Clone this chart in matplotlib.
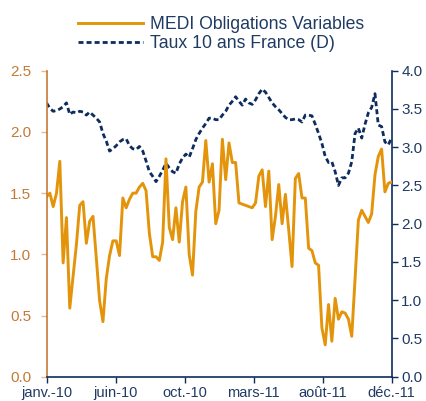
import numpy as np
import matplotlib
matplotlib.use("Agg")
import matplotlib.pyplot as plt

plt.rcParams["font.family"] = ["Liberation Sans", "DejaVu Sans"]

# weekly values, janv. 2010 -> déc. 2011
medi = [1.47, 1.50, 1.39, 1.50, 1.76, 0.93, 1.30, 0.56, 0.82, 1.08,
        1.40, 1.43, 1.09, 1.27, 1.31, 0.97, 0.62, 0.45, 0.80, 0.99,
        1.11, 1.11, 0.99, 1.46, 1.38, 1.45, 1.50, 1.50, 1.55, 1.58,
        1.52, 1.17, 0.98, 0.98, 0.95, 1.10, 1.78, 1.22, 1.12, 1.38,
        1.10, 1.43, 1.55, 1.00, 0.83, 1.35, 1.55, 1.59, 1.93, 1.59,
        1.74, 1.25, 1.36, 1.94, 1.61, 1.91, 1.75, 1.75, 1.42, 1.41,
        1.40, 1.39, 1.38, 1.42, 1.64, 1.69, 1.39, 1.68, 1.12, 1.31,
        1.57, 1.25, 1.49, 1.20, 0.90, 1.62, 1.66, 1.46, 1.46, 1.05,
        1.03, 0.93, 0.91, 0.40, 0.26, 0.59, 0.29, 0.64, 0.47, 0.53,
        0.52, 0.47, 0.33, 0.80, 1.28, 1.36, 1.31, 1.26, 1.33, 1.65,
        1.80, 1.86, 1.51, 1.58, 1.59]

taux10 = [3.58, 3.51, 3.47, 3.48, 3.50, 3.53, 3.58, 3.43, 3.46, 3.45,
          3.47, 3.46, 3.42, 3.46, 3.42, 3.38, 3.33, 3.18, 3.08, 2.95,
          2.98, 3.02, 3.07, 3.10, 3.11, 3.02, 2.98, 2.97, 3.01, 2.95,
          2.82, 2.68, 2.62, 2.55, 2.62, 2.70, 2.79, 2.73, 2.68, 2.66,
          2.78, 2.86, 2.91, 2.87, 2.98, 3.10, 3.18, 3.25, 3.31, 3.38,
          3.38, 3.36, 3.36, 3.42, 3.47, 3.55, 3.60, 3.66, 3.60, 3.55,
          3.63, 3.58, 3.56, 3.62, 3.70, 3.76, 3.72, 3.65, 3.58, 3.53,
          3.49, 3.44, 3.39, 3.36, 3.36, 3.37, 3.36, 3.33, 3.42, 3.42,
          3.41, 3.30, 3.18, 3.05, 2.88, 2.80, 2.81, 2.68, 2.50, 2.60,
          2.60, 2.66, 2.81, 3.18, 3.25, 3.12, 3.30, 3.45, 3.52, 3.70,
          3.29, 3.27, 3.07, 3.03, 3.12]

xlabels = ["janv.-10", "juin-10", "oct.-10", "mars-11", "août-11", "déc.-11"]

orange = "#E3940A"
brown = "#C47A36"
navy = "#0E2C5E"
txt_blue = "#1F3B63"

x = np.arange(len(medi))

fig = plt.figure(figsize=(4.27, 4.01), dpi=100)
ax = fig.add_axes([0.109, 0.0606, 0.808, 0.763])
ax2 = ax.twinx()

l1, = ax.plot(x, medi, color=orange, lw=2.1, label="MEDI Obligations Variables")
l2, = ax2.plot(x, taux10, color=navy, lw=2.0, ls=(0, (1.8, 1.1)),
               label="Taux 10 ans France (D)")

ax.set_xlim(0, len(medi) - 1)
ax.set_ylim(0, 2.5)
ax2.set_ylim(0, 4.0)
ax.set_yticks(np.arange(0, 2.51, 0.5))
ax2.set_yticks(np.arange(0, 4.01, 0.5))
ax.yaxis.set_major_formatter(matplotlib.ticker.FormatStrFormatter("%.1f"))
ax2.yaxis.set_major_formatter(matplotlib.ticker.FormatStrFormatter("%.1f"))
ax.set_xticks(np.linspace(0, len(medi) - 1, len(xlabels)))
ax.set_xticklabels(xlabels)

for a in (ax, ax2):
    a.spines["top"].set_visible(False)
ax.spines["right"].set_visible(False)
ax2.spines["left"].set_visible(False)
ax2.spines["bottom"].set_visible(False)
ax.spines["left"].set_color(brown)
ax.spines["left"].set_linewidth(1.2)
ax.spines["bottom"].set_color(navy)
ax.spines["bottom"].set_linewidth(1.2)
ax2.spines["right"].set_color(navy)
ax2.spines["right"].set_linewidth(1.2)

ax.tick_params(axis="y", colors="#E8B98A", labelcolor=brown, labelsize=11,
               length=4, width=1, pad=7)
ax.tick_params(axis="x", colors=navy, labelcolor=txt_blue, labelsize=10.5,
               length=4, width=1, pad=3)
ax2.tick_params(axis="y", colors=navy, labelcolor=txt_blue, labelsize=11,
                length=4, width=1, pad=3)

ax.set_zorder(ax2.get_zorder() + 1)
ax.patch.set_visible(False)

leg = fig.legend(handles=[l1, l2], loc="center", bbox_to_anchor=(0.518, 0.915),
                 frameon=False, fontsize=12.7, handlelength=3.7,
                 handletextpad=0.4, labelspacing=0.15, borderpad=0)
for t in leg.get_texts():
    t.set_color(txt_blue)

fig.savefig("out.png", dpi=100)
